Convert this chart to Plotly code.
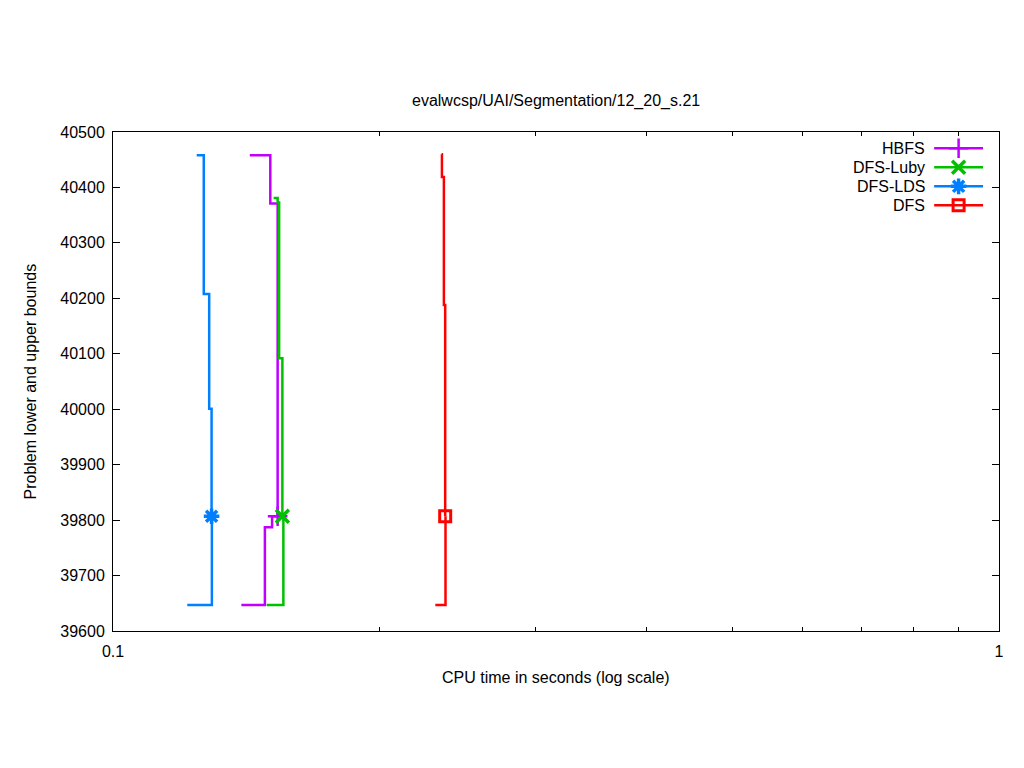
import plotly.graph_objects as go

# ---------------- data ----------------
title_text = "evalwcsp/UAI/Segmentation/12_20_s.21"
x_label = "CPU time in seconds (log scale)"
y_label = "Problem lower and upper bounds"

algorithms = ["HBFS", "DFS-Luby", "DFS-LDS", "DFS"]

# upper bounds (time, value), drawn as steps
hbfs_ub_t = [0.1427, 0.1505, 0.1534]
hbfs_ub_v = [40458, 40371, 39807]
hbfs_lb_t = [0.1396, 0.1484, 0.1512, 0.1534]
hbfs_lb_v = [39647, 39787, 39807, 39807]

luby_ub_t = [0.1518, 0.1534, 0.1540, 0.1553]
luby_ub_v = [40381, 40373, 40092, 39807]
luby_lb_t = [0.1491, 0.1557]
luby_lb_v = [39647, 39807]

lds_ub_t = [0.1243, 0.1266, 0.1284, 0.1292]
lds_ub_v = [40458, 40208, 40001, 39807]
lds_lb_t = [0.1213, 0.1293]
lds_lb_v = [39647, 39807]

dfs_ub_t = [0.2349, 0.2351, 0.2363, 0.2371]
dfs_ub_v = [40460, 40419, 40188, 39807]
dfs_lb_t = [0.2311, 0.2373]
dfs_lb_v = [39647, 39807]

y_ticks = [39600, 39700, 39800, 39900, 40000, 40100, 40200, 40300, 40400, 40500]
y_tick_text = [str(v) for v in y_ticks]
x_ticks = [0.1, 1]
x_tick_text = ["0.1", "1"]
x_minor = [0.2, 0.3, 0.4, 0.5, 0.6, 0.7, 0.8, 0.9]

# ---------------- styles ----------------
colors = {"HBFS": "#c000ff", "DFS-Luby": "#00c000", "DFS-LDS": "#0080ff", "DFS": "#ff0000"}
symbols = {"HBFS": "cross-thin-open", "DFS-Luby": "x-thin-open",
           "DFS-LDS": "asterisk-open", "DFS": "square-open"}
msize = {"HBFS": 14, "DFS-Luby": 13, "DFS-LDS": 13, "DFS": 11}
mlw = {"HBFS": 2.5, "DFS-Luby": 3.5, "DFS-LDS": 3.5, "DFS": 3}

series = {
    "HBFS": (hbfs_ub_t, hbfs_ub_v, hbfs_lb_t, hbfs_lb_v),
    "DFS-Luby": (luby_ub_t, luby_ub_v, luby_lb_t, luby_lb_v),
    "DFS-LDS": (lds_ub_t, lds_ub_v, lds_lb_t, lds_lb_v),
    "DFS": (dfs_ub_t, dfs_ub_v, dfs_lb_t, dfs_lb_v),
}

FONT = "Liberation Sans, Arial, sans-serif"
FS = 16
LW = 2.5

fig = go.Figure()
for name in algorithms:
    ut, uv, lt, lv = series[name]
    c = colors[name]
    fig.add_trace(go.Scatter(x=ut, y=uv, mode="lines", line=dict(color=c, width=LW, shape="hv"),
                             showlegend=False, hoverinfo="skip"))
    fig.add_trace(go.Scatter(x=lt, y=lv, mode="lines", line=dict(color=c, width=LW, shape="hv"),
                             showlegend=False, hoverinfo="skip"))
    fig.add_trace(go.Scatter(x=[ut[-1]], y=[uv[-1]], mode="markers", name=name,
                             marker=dict(symbol=symbols[name], size=msize[name], color=c,
                                         line=dict(color=c, width=mlw[name])),
                             showlegend=False))

# ---------------- custom gnuplot-style key (text left of sample) ----------------
key_text_x = 0.9189
key_line_x0, key_line_x1, key_mark_x = 0.9268, 0.982, 0.9544
key_y0 = 0.9673
key_dy = 0.0381
annotations = []
shapes = []
for i, name in enumerate(algorithms):
    yy = key_y0 - i * key_dy
    c = colors[name]
    annotations.append(dict(x=key_text_x, y=yy, xref="paper", yref="paper", text=name,
                            showarrow=False, xanchor="right", yanchor="middle",
                            font=dict(family=FONT, size=FS, color="black")))
    shapes.append(dict(type="line", xref="paper", yref="paper", x0=key_line_x0, x1=key_line_x1,
                       y0=yy, y1=yy, line=dict(color=c, width=LW)))
    fig.add_trace(go.Scatter(x=[key_mark_x], y=[yy], xaxis="x2", yaxis="y2", mode="markers",
                             marker=dict(symbol=symbols[name], size=msize[name], color=c,
                                         line=dict(color=c, width=mlw[name])),
                             showlegend=False, hoverinfo="skip"))

annotations.append(dict(x=0.5, y=0, xref="paper", yref="paper", text=x_label, showarrow=False,
                        xanchor="center", yanchor="middle", yshift=-46,
                        font=dict(family=FONT, size=FS, color="black")))
annotations.append(dict(x=0, y=0.5, xref="paper", yref="paper", text=y_label, showarrow=False,
                        xanchor="center", yanchor="middle", xshift=-83, textangle=-90,
                        font=dict(family=FONT, size=FS, color="black")))
annotations.append(dict(x=0.5, y=1, xref="paper", yref="paper", text=title_text, showarrow=False,
                        xanchor="center", yanchor="middle", yshift=31,
                        font=dict(family=FONT, size=FS, color="black")))

# page body has an 8px margin: figure is sized/offset so the plot frame lands at 113..1001 x 132..631
fig.update_layout(
    width=1008, height=752,
    margin=dict(l=105, r=15, t=124, b=129),
    paper_bgcolor="white", plot_bgcolor="white",
    showlegend=False,
    font=dict(family=FONT, size=FS, color="black"),
    annotations=annotations,
    shapes=shapes,
    xaxis=dict(type="log", range=[-1, 0], tickvals=x_ticks, ticktext=x_tick_text,
               ticks="inside", ticklen=7, tickcolor="black", tickwidth=1,
               showline=True, linecolor="black", linewidth=1, mirror="ticks",
               showgrid=False, zeroline=False, ticklabelstandoff=6,
               tickfont=dict(family=FONT, size=FS, color="black"),
               minor=dict(tickvals=x_minor, ticks="inside", ticklen=4, tickcolor="black",
                          tickwidth=1, showgrid=False)),
    yaxis=dict(range=[39600, 40500], tickvals=y_ticks, ticktext=y_tick_text,
               ticks="inside", ticklen=7,
               tickcolor="black", tickwidth=1, showline=True, linecolor="black", linewidth=1,
               mirror="ticks", showgrid=False, zeroline=False, ticklabelstandoff=4,
               tickfont=dict(family=FONT, size=FS, color="black")),
    xaxis2=dict(overlaying="x", range=[0, 1], visible=False, fixedrange=True),
    yaxis2=dict(overlaying="y", range=[0, 1], visible=False, fixedrange=True),
)

fig.write_html("out.html")
